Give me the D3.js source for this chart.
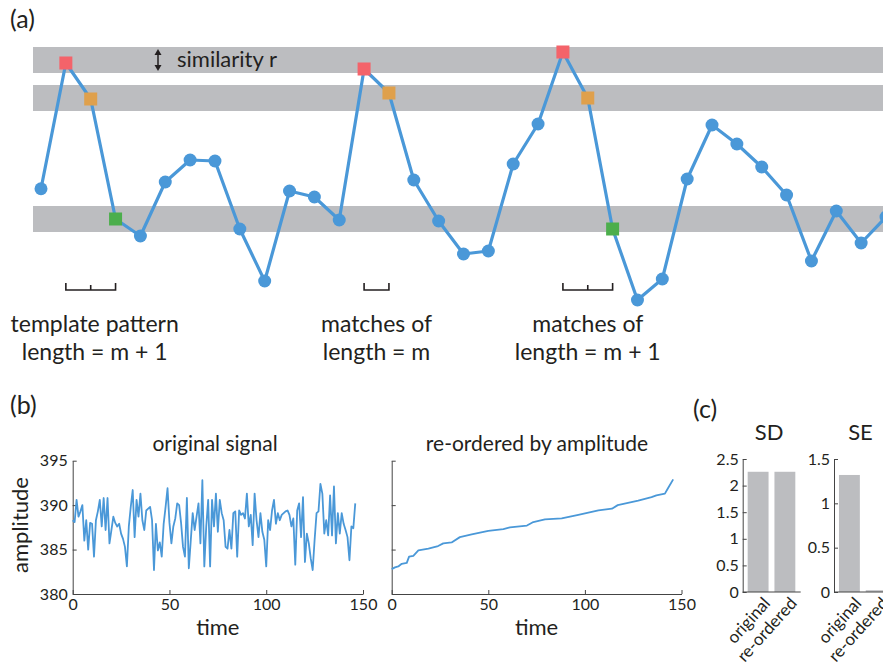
<!DOCTYPE html>
<html>
<head>
<meta charset="utf-8">
<script src="https://cdn.jsdelivr.net/npm/d3@7"></script>
<style>
  body { margin: 0; background: #fff; }
  svg { display: block; font-family: Lato, "Noto Sans", sans-serif; }
  .axis path, .axis line { stroke: #444; }
  .axis text { font-family: Lato, "Noto Sans", sans-serif; fill: #231f20; }
</style>
</head>
<body>
<svg id="fig" width="883" height="669"></svg>
<script>
// panel (a): toy series, values in arbitrary units
var seqA = [4.45, 9.48, 8.04, 3.24, 2.56, 4.72, 5.6, 5.56, 2.84, 0.76, 4.36, 4.12, 3.2, 9.24, 8.28, 4.8, 3.16,
            1.84, 1.96, 5.44, 7.04, 9.92, 8.08, 2.84, 0, 0.84, 4.84, 7.0, 6.24, 5.32, 4.2, 1.56, 3.56, 2.28, 3.32];
var squareIdx  = [1, 2, 3, 13, 14, 21, 22, 23];
var squareKind = [0, 1, 2, 0, 1, 0, 1, 2];
var bandCenters = [9.6, 8.08, 3.24];
var simR = 0.52;
var brackets = [[1, 3], [13, 14], [21, 23]];
var captions = [["template pattern", "length = m + 1"], ["matches of", "length = m"], ["matches of", "length = m + 1"]];

// panel (b): original signal (time 0..146)
var signal = [388.3, 388.1, 390.6, 388.7, 389.3, 390.0, 386.0, 388.3, 385.0, 388.0, 387.9, 384.2, 388.3, 389.3, 390.6, 387.6,
  390.8, 387.2, 390.8, 385.7, 387.2, 388.7, 388.0, 387.6, 387.9, 386.8, 386.2, 385.3, 383.1, 387.6, 389.8, 391.7,
  386.4, 390.6, 388.7, 391.3, 388.3, 387.2, 389.4, 389.6, 389.8, 388.3, 382.7, 387.9, 384.9, 385.8, 384.2, 387.9,
  389.8, 391.9, 388.0, 385.7, 387.6, 388.5, 390.2, 390.0, 388.0, 385.3, 384.2, 390.8, 382.9, 386.0, 389.1, 387.2,
  388.7, 390.2, 385.7, 392.8, 383.1, 387.6, 390.6, 383.1, 390.6, 387.6, 391.3, 387.0, 390.6, 389.1, 388.3, 385.3,
  385.1, 387.2, 385.1, 389.1, 389.3, 384.2, 389.4, 388.9, 389.1, 388.5, 391.3, 387.6, 388.9, 385.5, 391.3, 388.3,
  386.4, 389.1, 387.0, 386.1, 383.1, 388.3, 387.2, 389.4, 390.6, 387.9, 389.1, 388.3, 388.9, 389.1, 389.3, 389.4,
  388.9, 387.6, 388.5, 383.3, 389.4, 390.2, 386.4, 390.9, 383.6, 386.8, 385.7, 384.0, 382.7, 386.1, 389.1, 389.3,
  392.4, 391.3, 386.8, 388.3, 386.6, 391.1, 386.6, 392.1, 385.7, 389.1, 386.8, 389.1, 387.9, 387.2, 386.4, 383.8,
  387.6, 387.4, 390.2];

// re-ordered curve
var reordT = [0, 1.7, 3.4, 5.2, 7.8, 9, 11.2, 13.8, 19, 24, 26.7, 31, 35.3, 41.4, 50, 57.8, 61.2, 70, 73.3, 79.3,
              88, 96.6, 107, 114, 117, 127.6, 134.5, 137, 141.4, 143, 145.7];
var reordV = [382.8, 383.0, 383.1, 383.4, 383.5, 384.2, 384.3, 384.9, 385.1, 385.4, 385.7, 385.8, 386.4, 386.7, 387.1,
              387.3, 387.5, 387.7, 388.1, 388.4, 388.5, 388.9, 389.4, 389.6, 390.0, 390.5, 390.9, 391.1, 391.3, 391.9, 392.9];
var timeTicks = [0, 50, 100, 150];
var ampTicks = [380, 385, 390, 395];

// panel (c)
var cats = ["original", "re-ordered"];
var sdVals = [2.26, 2.26];
var seVals = [1.32, 0.02];
var sdTicks = [0, 0.5, 1, 1.5, 2, 2.5];
var seTicks = [0, 0.5, 1, 1.5];

var blue = "#4a98d8";
var grey = "#bcbdc0";
var ink = "#231f20";
var sqColors = ["#f4636a", "#dfa04c", "#4cae4c"];

var svg = d3.select("#fig");

// ---------- (a)
svg.append("text").attr("x", 10).attr("y", 28).attr("font-size", 25).attr("fill", ink).text("(a)");

var xa = d3.scaleLinear().domain([0, 34]).range([41, 886]);
var ya = d3.scaleLinear().domain([0, 10]).range([300, 50]);

var ga = svg.append("g");
ga.selectAll("rect.band").data(bandCenters).enter().append("rect")
  .attr("class", "band")
  .attr("x", 33).attr("width", 860)
  .attr("y", function(d) { return ya(d + simR); })
  .attr("height", function(d) { return ya(d - simR) - ya(d + simR); })
  .attr("fill", grey);

// similarity arrow + label
var arrX = 158, arrTop = ya(bandCenters[0] + simR) + 2, arrBot = ya(bandCenters[0] - simR) - 2;
ga.append("line").attr("x1", arrX).attr("x2", arrX).attr("y1", arrTop + 3).attr("y2", arrBot - 3)
  .attr("stroke", ink).attr("stroke-width", 1.5);
ga.append("path").attr("d", "M" + (arrX - 3.5) + "," + (arrTop + 6) + "L" + arrX + "," + arrTop + "L" + (arrX + 3.5) + "," + (arrTop + 6) + "Z").attr("fill", ink);
ga.append("path").attr("d", "M" + (arrX - 3.5) + "," + (arrBot - 6) + "L" + arrX + "," + arrBot + "L" + (arrX + 3.5) + "," + (arrBot - 6) + "Z").attr("fill", ink);
ga.append("text").attr("x", 177).attr("y", 67).attr("font-size", 22).attr("fill", ink).text("similarity r");

ga.append("path").datum(seqA)
  .attr("fill", "none").attr("stroke", blue).attr("stroke-width", 3.2).attr("stroke-linejoin", "round")
  .attr("d", d3.line().x(function(d, i) { return xa(i); }).y(function(d) { return ya(d); }));

ga.selectAll("circle").data(seqA.map(function(d, i) { return [i, d]; })
    .filter(function(p) { return squareIdx.indexOf(p[0]) < 0; }))
  .enter().append("circle")
  .attr("cx", function(p) { return xa(p[0]); })
  .attr("cy", function(p) { return ya(p[1]); })
  .attr("r", 6.5).attr("fill", blue);

ga.selectAll("rect.sq").data(squareIdx).enter().append("rect")
  .attr("class", "sq")
  .attr("x", function(d) { return xa(d) - 6.5; })
  .attr("y", function(d) { return ya(seqA[d]) - 6.5; })
  .attr("width", 13).attr("height", 13)
  .attr("fill", function(d, i) { return sqColors[squareKind[i]]; });

// brackets
brackets.forEach(function(b, k) {
  var x0 = xa(b[0]), x1 = xa(b[1]), yb = 290;
  var p = "M" + x0 + "," + (yb - 7) + "V" + yb + "H" + x1 + "V" + (yb - 7);
  for (var j = b[0] + 1; j < b[1]; j++) p += "M" + xa(j) + "," + (yb - 5) + "V" + yb;
  ga.append("path").attr("d", p).attr("fill", "none").attr("stroke", ink).attr("stroke-width", 1.6);
  var cx = (x0 + x1) / 2 + (k == 0 ? 4 : 0);
  ga.append("text").attr("x", cx).attr("y", 332).attr("text-anchor", "middle")
    .attr("font-size", 23).attr("fill", ink).text(captions[k][0]);
  ga.append("text").attr("x", cx).attr("y", 360).attr("text-anchor", "middle")
    .attr("font-size", 23).attr("fill", ink).text(captions[k][1]);
});

// ---------- (b)
svg.append("text").attr("x", 10).attr("y", 414).attr("font-size", 25).attr("fill", ink).text("(b)");

var yb = d3.scaleLinear().domain([380, 395]).range([594, 460.7]);
var xL = d3.scaleLinear().domain([0, 150]).range([72.7, 363]);
var xR = d3.scaleLinear().domain([0, 150]).range([391.7, 681.5]);

function timeAxis(xs) {
  svg.append("g").attr("class", "axis").attr("transform", "translate(0," + yb(380) + ")")
    .call(d3.axisBottom(xs).tickValues(timeTicks).tickSizeInner(-4).tickSizeOuter(0).tickPadding(5))
    .call(function(g) { g.selectAll("text").attr("font-size", 16); });
  svg.append("text").attr("x", d3.mean(xs.range())).attr("y", 635).attr("text-anchor", "middle")
    .attr("font-size", 22).attr("fill", ink).text("time");
}

svg.append("g").attr("class", "axis").attr("transform", "translate(" + xL(0) + ",0)")
  .call(d3.axisLeft(yb).tickValues(ampTicks).tickSizeInner(-4).tickSizeOuter(0).tickPadding(5))
  .call(function(g) { g.selectAll("text").attr("font-size", 16); });
timeAxis(xL);
svg.append("text").attr("transform", "translate(28,525) rotate(-90)").attr("text-anchor", "middle")
  .attr("font-size", 22).attr("fill", ink).text("amplitude");
svg.append("text").attr("x", 215).attr("y", 451).attr("text-anchor", "middle")
  .attr("font-size", 21).attr("fill", ink).text("original signal");

svg.append("path").datum(signal)
  .attr("fill", "none").attr("stroke", blue).attr("stroke-width", 1.8).attr("stroke-linejoin", "round")
  .attr("d", d3.line().x(function(d, i) { return xL(i); }).y(function(d) { return yb(d); }));

svg.append("g").attr("class", "axis").attr("transform", "translate(" + xR(0) + ",0)")
  .call(d3.axisLeft(yb).tickValues(ampTicks).tickSizeInner(-4).tickSizeOuter(0).tickFormat(""));
timeAxis(xR);
svg.append("text").attr("x", 537).attr("y", 451).attr("text-anchor", "middle")
  .attr("font-size", 21).attr("fill", ink).text("re-ordered by amplitude");

svg.append("path").datum(d3.zip(reordT, reordV))
  .attr("fill", "none").attr("stroke", blue).attr("stroke-width", 1.8).attr("stroke-linejoin", "round")
  .attr("d", d3.line().x(function(d) { return xR(d[0]); }).y(function(d) { return yb(d[1]); }));

// ---------- (c)
svg.append("text").attr("x", 693).attr("y", 418).attr("font-size", 25).attr("fill", ink).text("(c)");

function barPanel(x0, vals, dom, ticks, title) {
  var ys = d3.scaleLinear().domain(dom).range([592, 459]);
  var xs = d3.scaleBand().domain(cats).range([x0 + 2.3, x0 + 55.3]).paddingInner(0.22).paddingOuter(0.1);
  svg.append("g").selectAll("rect").data(vals).enter().append("rect")
    .attr("x", function(d, i) { return xs(cats[i]); })
    .attr("width", xs.bandwidth())
    .attr("y", function(d) { return ys(d); })
    .attr("height", function(d) { return ys(0) - ys(d); })
    .attr("fill", grey);
  svg.append("g").attr("class", "axis").attr("transform", "translate(" + x0 + ",0)")
    .call(d3.axisLeft(ys).tickValues(ticks).tickFormat(function(d) { return String(d); })
      .tickSizeInner(-4).tickSizeOuter(0).tickPadding(4))
    .call(function(g) { g.selectAll("text").attr("font-size", 16); });
  svg.append("g").attr("class", "axis").attr("transform", "translate(0," + ys(0) + ")")
    .call(d3.axisBottom(xs).tickSize(0).tickPadding(0))
    .call(function(g) {
      g.select(".domain").attr("d", "M" + x0 + ",0H" + (x0 + 58));
      g.selectAll("text").attr("font-size", 17).attr("text-anchor", "end")
        .attr("dy", null).attr("y", 0)
        .attr("transform", "translate(13,12) rotate(-48)");
    });
  svg.append("text").attr("x", (x0 + 26.5)).attr("y", 440).attr("text-anchor", "middle")
    .attr("font-size", 22).attr("fill", ink).text(title);
}
barPanel(742.7, sdVals, [0, 2.5], sdTicks, "SD");
barPanel(834, seVals, [0, 1.5], seTicks, "SE");
</script>
</body>
</html>
